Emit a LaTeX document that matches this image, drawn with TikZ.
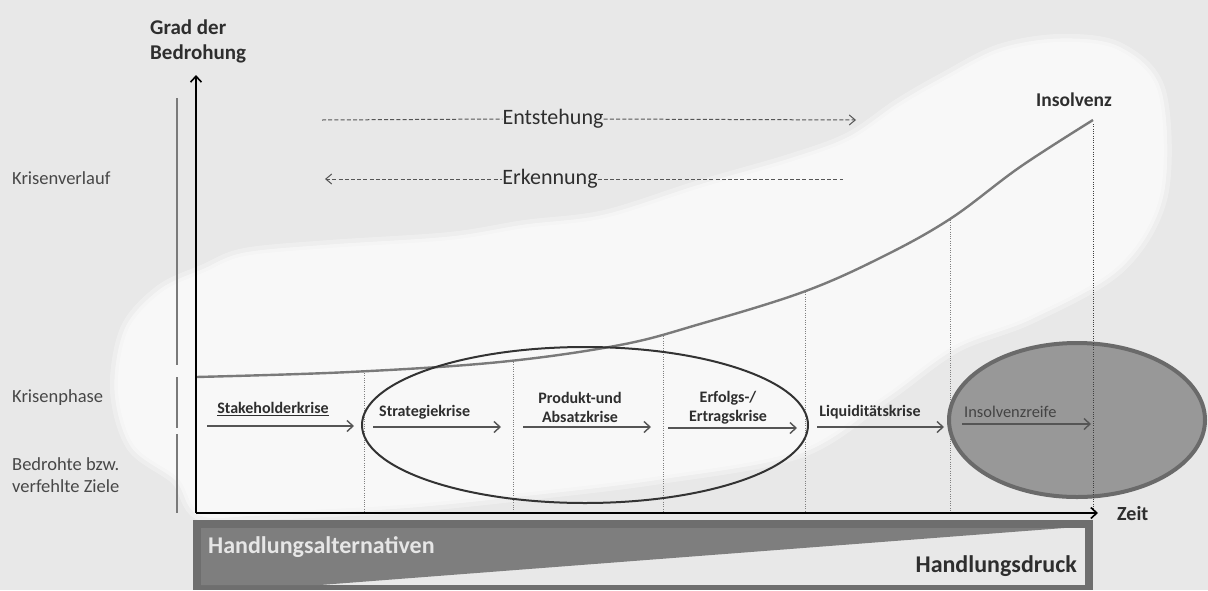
\documentclass[tikz,border=0pt]{standalone}
\usepackage{fontspec}
\setmainfont{Carlito}
\usetikzlibrary{arrows.meta}
\definecolor{bg}{HTML}{E8E8E8}
\definecolor{haze}{HTML}{F9F9F9}
\definecolor{ink}{HTML}{2E2E2E}
\definecolor{sidegray}{HTML}{474747}
\definecolor{curvegray}{HTML}{7A7A7A}
\definecolor{arrowgray}{HTML}{555555}
\definecolor{framegray}{HTML}{6E6E6E}
\definecolor{wedgegray}{HTML}{7E7E7E}
\definecolor{ellfill}{HTML}{989898}
\definecolor{ellline}{HTML}{6A6A6A}
\definecolor{lighttext}{HTML}{E6E6E6}

\tikzset{
  sidelbl/.style={anchor=west, inner sep=0pt, text=sidegray, font=\fontsize{18.5}{22}\selectfont, align=left},
  titlelbl/.style={inner sep=0pt, text=ink, font=\bfseries\fontsize{20}{25}\selectfont, align=left},
  phaselbl/.style={inner sep=0pt, text=ink, font=\bfseries\fontsize{16}{19}\selectfont, align=center},
  phasearrow/.style={draw=arrowgray, line width=1.6pt, -{Straight Barb[length=6pt,width=11pt,line width=1.4pt]}},
  axisline/.style={draw=black, line width=1.8pt, -{Straight Barb[length=6pt,width=11pt,line width=1.6pt]}},
  guide/.style={draw=gray, line width=0.6pt, dash pattern=on 1pt off 1.3pt},
  dashedarrow/.style={draw=arrowgray, line width=1pt, dash pattern=on 4pt off 2.2pt},
  barbtip/.style={-{Straight Barb[length=6pt,width=10pt,line width=1pt]}},
  barbtail/.style={{Straight Barb[length=6pt,width=10pt,line width=1pt]}-},
  sidebar/.style={draw=curvegray, line width=2.4pt},
}

\begin{document}
\begin{tikzpicture}[x=1pt,y=-1pt]
\useasboundingbox (0,0) rectangle (1208,590);
\fill[bg] (0,0) rectangle (1208,590);

% soft white cloud behind the graph
\def\blob{plot[smooth cycle, tension=0.55] coordinates {
  (178,478) (134,445) (118,390) (128,330) (162,292) (205,272) (245,256)
  (330,248) (450,240) (525,228) (605,218) (700,188) (790,162) (850,140)
  (900,106) (945,80) (1000,52) (1060,42) (1118,50) (1158,92) (1160,195)
  (1118,266) (1030,316) (955,345) (885,395) (800,450) (660,476) (530,492)
  (400,505) (260,512) (200,512)}}
\draw[white, line width=16pt, opacity=.3] \blob;
\draw[white, line width=7pt, opacity=.45] \blob;
\fill[haze, opacity=.95] \blob;

% left captions
\node[sidelbl] (verlauf) at (12,178) {Krisenverlauf};
\node[sidelbl] (phase) at (12,398) {Krisenphase};
\node[sidelbl] (ziele) at (12,475) {Bedrohte bzw.\\verfehlte Ziele};

% grey separator bar beside the axis
\draw[sidebar] (177,98) -- (177,365);
\draw[sidebar] (177,377) -- (177,428);
\draw[sidebar] (177,434) -- (177,513);

% threat curve
\draw[curvegray, line width=2.4pt] plot[smooth, tension=0.6] coordinates {
  (196,377) (350,372) (500,362) (620,345) (700,324) (803,292)
  (880,258) (950,219) (1020,167) (1093,120)};

% dotted phase boundaries
\foreach \x/\y [count=\i] in {364/373, 513/362, 663/336, 805/292, 950/220, 1093/124} {
  \coordinate (gt\i) at (\x,\y);
  \coordinate (gb\i) at (\x,512);
}
\foreach \i in {1,...,5} \draw[guide] (gt\i) -- (gb\i);

% highlighted final phase
\draw[ellline, fill=ellfill, line width=4pt] (1077,420) ellipse [x radius=128pt, y radius=77pt];
\draw[guide, draw=darkgray] (gt6) -- (gb6);

% oval around the middle phases
\draw[black!80, line width=2pt] (585,425) ellipse [x radius=223pt, y radius=78pt];

% axes
\coordinate (origin) at (196,513);
\coordinate (ytop) at (196,75);
\coordinate (xend) at (1098,513);
\draw[axisline] (origin) -- (ytop);
\draw[axisline] (origin) -- (xend);
\node[titlelbl, anchor=west, font=\bfseries\fontsize{21}{25}\selectfont] (grad) at (150,41) {Grad der\\Bedrohung};
\node[titlelbl, anchor=west] (zeit) at (1117,514) {Zeit};
\node[titlelbl, font=\bfseries\fontsize{19.5}{19.5}\selectfont] (insolvenz) at (1074,100) {Insolvenz};

% development and detection
\node[inner sep=0pt, text=ink, font=\fontsize{22}{22}\selectfont] (entst) at (553,119) {Entstehung};
\coordinate (entL) at (322,120);
\coordinate (entR) at (856,120);
\draw[dashedarrow] (entL) -- (entst.west);
\draw[dashedarrow, barbtip] (entst.east) -- (entR);

\node[inner sep=0pt, text=ink, font=\fontsize{22}{22}\selectfont] (erk) at (550,179) {Erkennung};
\coordinate (erkL) at (325,179);
\coordinate (erkR) at (843,179);
\draw[dashedarrow, barbtail] (erkL) -- (erk.west);
\draw[dashedarrow] (erk.east) -- (erkR);

% crisis phases
\coordinate (p1a) at (207,426); \coordinate (p1b) at (354,426);
\coordinate (p2a) at (373,427); \coordinate (p2b) at (501,427);
\coordinate (p3a) at (523,427); \coordinate (p3b) at (651,427);
\coordinate (p4a) at (668,428); \coordinate (p4b) at (797,428);
\coordinate (p5a) at (817,427); \coordinate (p5b) at (944,427);
\coordinate (p6a) at (962,424); \coordinate (p6b) at (1091,424);
\foreach \i in {1,...,5} \draw[phasearrow] (p\i a) -- (p\i b);
\draw[phasearrow, draw=ellline!80!black] (p6a) -- (p6b);

\node[phaselbl] (stake) at (273,409) {\underline{Stakeholderkrise}};
\node[phaselbl, anchor=west] (strat) at (379,412) {Strategiekrise};
\node[phaselbl] (prod) at (580,407) {Produkt-und\\Absatzkrise};
\node[phaselbl] (erfolg) at (728,408) {Erfolgs-/\\Ertragskrise};
\node[phaselbl] (liqu) at (870,412) {Liquiditätskrise};
\node[phaselbl, anchor=west, font=\fontsize{16.4}{16.4}\selectfont, text=ink!90] (reife) at (964,412) {Insolvenzreife};

% room for action versus pressure to act
\fill[framegray] (193,520) rectangle (1093,590);
\fill[bg] (201,528) rectangle (1085,585);
\fill[wedgegray] (201,528) -- (1064,528) -- (320,585) -- (201,585) -- cycle;
\node[inner sep=0pt, anchor=west, text=lighttext, font=\bfseries\fontsize{24}{24}\selectfont] (alt) at (208,547) {Handlungsalternativen};
\node[inner sep=0pt, anchor=east, text=ink, font=\bfseries\fontsize{24}{24}\selectfont] (druck) at (1077,566) {Handlungsdruck};
\end{tikzpicture}
\end{document}
